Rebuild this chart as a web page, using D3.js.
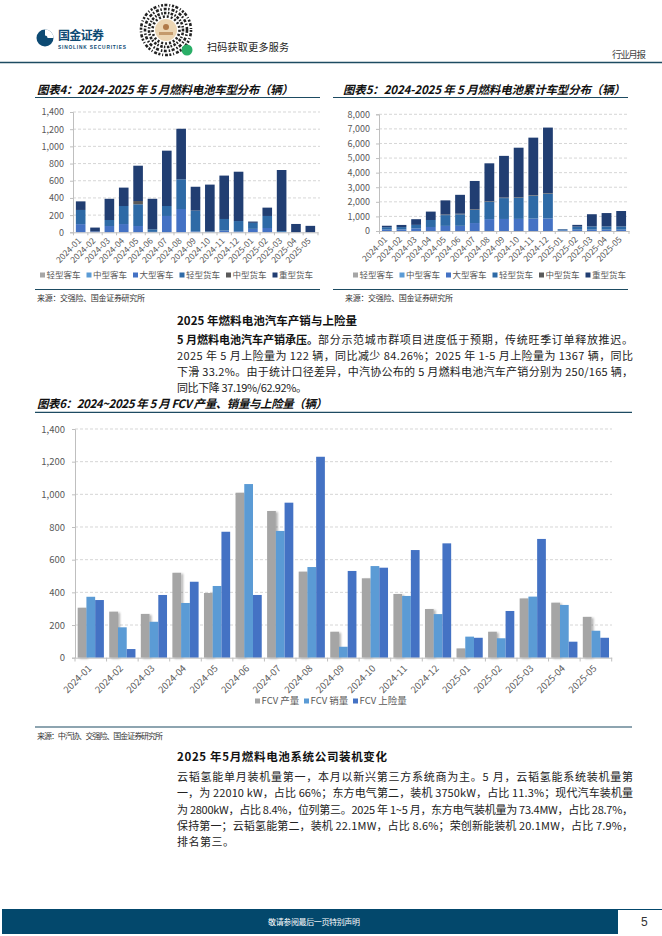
<!DOCTYPE html>
<html>
<head>
<meta charset="utf-8">
<script src="https://cdn.jsdelivr.net/npm/d3@7"></script>
<style>
body { margin: 0; background: #fff; }
svg { display: block; }
text { font-family: "Noto Sans CJK SC", "Noto Sans", sans-serif; }
.num text, text.num { font-family: "Liberation Sans", Arial, sans-serif; }
</style>
</head>
<body>
<script>
// months shared by all three charts
var months = ["2024-01","2024-02","2024-03","2024-04","2024-05","2024-06","2024-07","2024-08","2024-09","2024-10","2024-11","2024-12","2025-01","2025-02","2025-03","2025-04","2025-05"];
var types = ["轻型客车","中型客车","大型客车","轻型货车","中型货车","重型货车"];
var typeColors = ["#a6a6a6","#5b9bd5","#4472c4","#2e6aa6","#5a5a5a","#213e72"];

// 图表4 monthly, by type
var lightBus4   = [0,0,0,0,0,0,0,0,0,0,0,0,0,0,0,0,0];
var midBus4     = [0,0,0,0,0,0,0,0,0,0,0,0,0,0,0,0,0];
var bigBus4     = [95,10,73,96,73,5,190,271,10,5,20,10,40,50,5,0,0];
var lightTruck4 = [165,0,70,210,253,30,116,346,242,5,135,121,70,140,10,0,0];
var midTruck4   = [0,0,0,0,38,0,0,0,0,0,0,0,0,0,0,0,0];
var heavyTruck4 = [100,45,247,214,411,355,644,588,278,545,505,574,15,97,710,97,75];
var ticks4 = [0,200,400,600,800,1000,1200,1400];

// 图表5 cumulative, by type
var lightBus5   = [0,0,0,0,0,0,0,0,0,0,0,0,0,0,0,0,0];
var midBus5     = [0,0,0,0,0,0,0,0,0,0,0,0,0,0,0,0,0];
var bigBus5     = [95,105,180,275,350,355,545,815,825,830,850,860,40,90,95,95,95];
var lightTruck5 = [165,165,240,480,740,790,900,1190,1430,1440,1570,1690,70,210,220,220,220];
var midTruck5   = [0,0,0,0,40,40,40,40,40,40,40,40,0,0,0,0,0];
var heavyTruck5 = [100,145,390,575,970,1295,1945,2595,2855,3400,3940,4500,20,120,835,915,1055];
var ticks5 = [0,1000,2000,3000,4000,5000,6000,7000,8000];

// 图表6
var fcvNames = ["FCV产量","FCV销量","FCV上险量"];
var fcvColors = ["#a5a5a5","#5b9bd5","#4472c4"];
var production = [306,282,268,520,396,1010,898,527,159,486,390,298,57,159,363,337,250];
var sales      = [373,186,220,335,439,1063,776,555,67,561,378,267,129,119,374,323,165];
var insured    = [353,53,384,465,771,384,949,1230,531,551,659,700,122,286,727,98,122];
var ticks6 = [0,200,400,600,800,1000,1200,1400];

var teal = "#1d4b62";
var axisGray = "#bfbfbf";
var labelGray = "#595959";

var svg = d3.select('body').append('svg')
  .attr('width', 662)
  .attr('height', 936);

var defs = svg.append('defs');
var f = defs.append('filter').attr('id', 'shadow')
  .attr('x', '-40%').attr('y', '-10%').attr('width', '200%').attr('height', '130%');
f.append('feGaussianBlur').attr('in', 'SourceAlpha').attr('stdDeviation', 1);
f.append('feOffset').attr('dx', 2).attr('dy', 1).attr('result', 'off');
f.append('feComponentTransfer').append('feFuncA').attr('type', 'linear').attr('slope', 0.3);
var fm = f.append('feMerge');
fm.append('feMergeNode');
fm.append('feMergeNode').attr('in', 'SourceGraphic');

// ---------- header ----------
svg.append('circle').attr('cx', 45).attr('cy', 38).attr('r', 8.5).attr('fill', '#0d4a73');
svg.append('path').attr('d', 'M45,29.5 a8.5,8.5 0 0,1 8.5,8.5 h-6 a2.5,2.5 0 0,0 -2.5,-2.5 z').attr('fill', '#fff');
svg.append('text').attr('x', 58).attr('y', 40).attr('font-size', 12).attr('font-weight', 'bold')
  .attr('fill', '#0d4a73').attr('textLength', 46).text('国金证券');
svg.append('text').attr('x', 58).attr('y', 49).attr('font-size', 4.8).attr('font-weight', 'bold')
  .attr('fill', '#0d4a73').attr('textLength', 68).attr('class', 'num').text('SINOLINK SECURITIES');

// round mini-program code
var qr = svg.append('g').attr('transform', 'translate(166,30)');
[25, 21, 17, 13.5].forEach(function(r, i) {
  qr.append('circle').attr('r', r).attr('fill', 'none').attr('stroke', '#222')
    .attr('stroke-width', 2.6).attr('stroke-dasharray', ['2,1.4,3,2,1,1.8', '3,1.5,1.5,2', '1.5,1.2,2.5,1.6', '2,2'][i]);
});
qr.append('circle').attr('r', 11).attr('fill', '#ecd6b4');
qr.append('circle').attr('r', 3).attr('cy', -3).attr('fill', '#b07a4a');
qr.append('rect').attr('x', -7).attr('y', 2).attr('width', 14).attr('height', 3).attr('fill', '#c49a6c');
svg.append('circle').attr('cx', 187).attr('cy', 50).attr('r', 5.5).attr('fill', '#2aae67');
svg.append('text').attr('x', 207).attr('y', 51).attr('font-size', 10).attr('fill', '#222')
  .attr('textLength', 82).text('扫码获取更多服务');
svg.append('text').attr('x', 612).attr('y', 58).attr('font-size', 9.5).attr('fill', '#444')
  .attr('textLength', 34).text('行业月报');
svg.append('line').attr('x1', 0).attr('x2', 662).attr('y1', 62.5).attr('y2', 62.5)
  .attr('stroke', teal).attr('stroke-width', 1.5);

// ---------- helpers ----------
function title(x, y, len, txt) {
  svg.append('text').attr('x', x).attr('y', y).attr('font-size', 11.5).attr('font-weight', 'bold')
    .attr('font-style', 'italic').attr('fill', '#111').attr('textLength', len).text(txt);
}
function rule(x1, x2, y) {
  svg.append('line').attr('x1', x1).attr('x2', x2).attr('y1', y).attr('y2', y)
    .attr('stroke', teal).attr('stroke-width', 1.2);
}
function source(x, y, len, txt) {
  svg.append('text').attr('x', x).attr('y', y).attr('font-size', 8).attr('fill', '#333')
    .attr('textLength', len).text(txt);
}
function legend(items, colors, x, y, step, fs) {
  items.forEach(function(t, i) {
    var xx = x + i * step;
    svg.append('rect').attr('x', xx).attr('y', y - 2.5).attr('width', 5).attr('height', 5).attr('fill', colors[i]);
    svg.append('text').attr('x', xx + 6.5).attr('y', y + 3.2).attr('font-size', fs).attr('fill', labelGray).text(t);
  });
}
function styleAxis(g) {
  g.select('.domain').attr('stroke', axisGray);
  g.selectAll('.tick line').attr('stroke', axisGray);
  g.selectAll('.tick text').attr('fill', labelGray).attr('font-family', '"Liberation Sans", Arial, sans-serif');
}

function drawStacked(cfg) {
  var x = d3.scaleBand().domain(months).range([cfg.x0, cfg.x1]).paddingInner(0.33).paddingOuter(0.2);
  var y = d3.scaleLinear().domain([0, cfg.max]).range([cfg.y0, cfg.y1]);
  var g = svg.append('g');

  g.selectAll('line.grid').data(cfg.ticks.slice(1)).enter().append('line')
    .attr('x1', cfg.x0).attr('x2', cfg.gridEnd)
    .attr('y1', function(d) { return y(d); }).attr('y2', function(d) { return y(d); })
    .attr('stroke', '#c4c4c4').attr('stroke-width', 0.7).attr('stroke-dasharray', '3,2');

  var rows = months.map(function(m, i) {
    var r = { month: m };
    types.forEach(function(t, k) { r[t] = cfg.series[k][i]; });
    return r;
  });
  var stack = d3.stack().keys(types)(rows);
  g.selectAll('g.layer').data(stack).enter().append('g')
    .attr('fill', function(d, i) { return typeColors[i]; })
    .selectAll('rect').data(function(d) { return d; }).enter().append('rect')
    .attr('x', function(d) { return x(d.data.month); })
    .attr('width', x.bandwidth())
    .attr('y', function(d) { return y(d[1]); })
    .attr('height', function(d) { return y(d[0]) - y(d[1]); });

  var ya = g.append('g').attr('transform', 'translate(' + cfg.x0 + ',0)')
    .call(d3.axisLeft(y).tickValues(cfg.ticks).tickFormat(d3.format(',')).tickSize(3).tickPadding(6));
  ya.selectAll('.tick text').attr('font-size', 9);
  styleAxis(ya);

  var xa = g.append('g').attr('transform', 'translate(0,' + cfg.y0 + ')')
    .call(d3.axisBottom(x).tickSize(0));
  xa.selectAll('.tick text')
    .attr('font-size', 8.5).attr('x', 0).attr('y', 0).attr('dy', '0.35em')
    .attr('transform', 'translate(-1,7) rotate(-45)').style('text-anchor', 'end');
  styleAxis(xa);
  // boundary ticks
  var bounds = months.map(function(m) { return x(m) - x.step() * x.paddingInner() / 2; });
  bounds.push(cfg.x1);
  g.selectAll('line.bt').data(bounds).enter().append('line')
    .attr('x1', function(d) { return d; }).attr('x2', function(d) { return d; })
    .attr('y1', cfg.y0).attr('y2', cfg.y0 + 3).attr('stroke', axisGray);
}

// ---------- 图表4 ----------
title(37, 93.5, 256, '图表4：2024-2025 年 5 月燃料电池车型分布（辆）');
rule(35, 320, 97.5);
drawStacked({
  x0: 73, x1: 318, gridEnd: 320, y0: 232.3, y1: 112, max: 1400, ticks: ticks4,
  series: [lightBus4, midBus4, bigBus4, lightTruck4, midTruck4, heavyTruck4]
});
legend(types, typeColors, 40, 275, 46.5, 8.5);
rule(35, 320, 289.5);
source(37, 301, 108, '来源：交强险、国金证券研究所');

// ---------- 图表5 ----------
title(343, 93.5, 282, '图表5：2024-2025 年 5 月燃料电池累计车型分布（辆）');
rule(333, 628, 97.5);
drawStacked({
  x0: 379, x1: 629, gridEnd: 628, y0: 231, y1: 114.3, max: 8000, ticks: ticks5,
  series: [lightBus5, midBus5, bigBus5, lightTruck5, midTruck5, heavyTruck5]
});
legend(types, typeColors, 353, 275, 46.5, 8.5);
rule(333, 628, 289.5);
source(345, 301, 108, '来源：交强险、国金证券研究所');

// ---------- text block 1 ----------
svg.append('text').attr('x', 177).attr('y', 325).attr('font-size', 11.5).attr('font-weight', 'bold')
  .attr('fill', '#111').attr('textLength', 180).text('2025 年燃料电池汽车产销与上险量');
var boldPart = svg.append('text').attr('x', 177).attr('y', 344).attr('font-size', 11).attr('font-weight', 'bold')
  .attr('fill', '#111').text('5 月燃料电池汽车产销承压。');
var boldEnd = 177 + boldPart.node().getComputedTextLength();
svg.append('text').attr('x', boldEnd).attr('y', 344).attr('font-size', 11)
  .attr('fill', '#222').attr('textLength', 633 - boldEnd).text('部分示范城市群项目进度低于预期，传统旺季订单释放推迟。');
var para1 = [
  '2025 年 5 月上险量为 122 辆，同比减少 84.26%；2025 年 1-5 月上险量为 1367 辆，同比',
  '下滑 33.2%。由于统计口径差异，中汽协公布的 5 月燃料电池汽车产销分别为 250/165 辆，',
  '同比下降 37.19%/62.92%。'
];
var para1Len = [456, 456, 130];
para1.forEach(function(t, i) {
  svg.append('text').attr('x', 177).attr('y', 360 + i * 16.2).attr('font-size', 11)
    .attr('fill', '#222').attr('textLength', para1Len[i]).text(t);
});

// ---------- 图表6 ----------
title(37, 408, 290, '图表6：2024~2025 年 5 月 FCV 产量、销量与上险量（辆）');
rule(35, 632, 412.3);

(function() {
  var x0 = d3.scaleBand().domain(months).range([75, 611.7]).paddingInner(0.17).paddingOuter(0.085);
  var x1 = d3.scaleBand().domain(fcvNames).range([0, x0.bandwidth()]);
  var y = d3.scaleLinear().domain([0, 1400]).range([657.7, 429]);
  var g = svg.append('g');

  g.selectAll('line.grid').data(ticks6.slice(1)).enter().append('line')
    .attr('x1', 75).attr('x2', 612)
    .attr('y1', function(d) { return y(d); }).attr('y2', function(d) { return y(d); })
    .attr('stroke', '#c4c4c4').attr('stroke-width', 0.7).attr('stroke-dasharray', '3,2');

  var rows = months.map(function(m, i) {
    return { month: m, values: [production[i], sales[i], insured[i]] };
  });
  var grp = g.selectAll('g.grp').data(rows).enter().append('g')
    .attr('transform', function(d) { return 'translate(' + x0(d.month) + ',0)'; });
  grp.selectAll('rect').data(function(d) { return d.values; }).enter().append('rect')
    .attr('x', function(d, i) { return x1(fcvNames[i]); })
    .attr('width', x1.bandwidth())
    .attr('y', function(d) { return y(d); })
    .attr('height', function(d) { return y(0) - y(d); })
    .attr('fill', function(d, i) { return fcvColors[i]; })
    .attr('filter', function(d, i) { return i === 0 ? 'url(#shadow)' : null; });

  var ya = g.append('g').attr('transform', 'translate(75,0)')
    .call(d3.axisLeft(y).tickValues(ticks6).tickFormat(d3.format(',')).tickSize(3).tickPadding(7));
  ya.selectAll('.tick text').attr('font-size', 9.5);
  styleAxis(ya);

  var xa = g.append('g').attr('transform', 'translate(0,657.7)')
    .call(d3.axisBottom(x0).tickSize(0));
  xa.selectAll('.tick text')
    .attr('font-size', 9.5).attr('x', 0).attr('y', 0).attr('dy', '0.35em')
    .attr('transform', 'translate(-1,9) rotate(-45)').style('text-anchor', 'end');
  styleAxis(xa);
  var bounds = months.map(function(m, i) { return 75 + i * x0.step(); });
  bounds.push(611.7);
  g.selectAll('line.bt').data(bounds).enter().append('line')
    .attr('x1', function(d) { return d; }).attr('x2', function(d) { return d; })
    .attr('y1', 657.7).attr('y2', 661.5).attr('stroke', axisGray);
})();

legend(['FCV 产量', 'FCV 销量', 'FCV 上险量'], fcvColors, 255, 701, 49, 9.5);
rule(35, 632, 727);
source(37, 739, 126, '来源：中汽协、交强险、国金证券研究所');

// ---------- text block 2 ----------
svg.append('text').attr('x', 177).attr('y', 761).attr('font-size', 11.5).attr('font-weight', 'bold')
  .attr('fill', '#111').attr('textLength', 210).text('2025 年5月燃料电池系统公司装机变化');
var para2 = [
  '云韬氢能单月装机量第一，本月以新兴第三方系统商为主。5 月，云韬氢能系统装机量第',
  '一，为 22010 kW，占比 66%；东方电气第二，装机 3750kW，占比 11.3%；现代汽车装机量',
  '为 2800kW，占比 8.4%，位列第三。2025 年 1~5 月，东方电气装机量为 73.4MW，占比 28.7%，',
  '保持第一；云韬氢能第二，装机 22.1MW，占比 8.6%；荣创新能装机 20.1MW，占比 7.9%，',
  '排名第三。'
];
var para2Len = [456, 456, 456, 456, 57];
para2.forEach(function(t, i) {
  svg.append('text').attr('x', 177).attr('y', 781 + i * 16.3).attr('font-size', 11)
    .attr('fill', '#222').attr('textLength', para2Len[i]).text(t);
});

// ---------- footer ----------
svg.append('rect').attr('x', 2).attr('y', 909).attr('width', 616).attr('height', 25).attr('fill', '#03486c');
svg.append('line').attr('x1', 618).attr('x2', 662).attr('y1', 909.5).attr('y2', 909.5).attr('stroke', '#03486c');
svg.append('text').attr('x', 268).attr('y', 924.5).attr('font-size', 8).attr('fill', '#fff')
  .attr('textLength', 92).text('敬请参阅最后一页特别声明');
svg.append('text').attr('x', 641).attr('y', 926).attr('font-size', 12).attr('fill', '#333')
  .attr('class', 'num').text('5');
</script>
</body>
</html>
